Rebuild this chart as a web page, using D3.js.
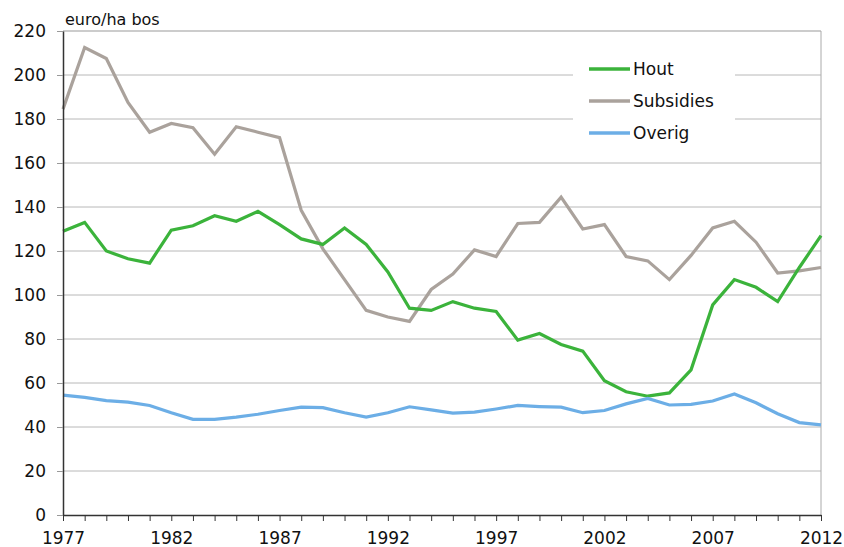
<!DOCTYPE html>
<html><head><meta charset="utf-8">
<script src="https://cdn.jsdelivr.net/npm/d3@7"></script>
<style>body{margin:0;background:#fff}svg{display:block}text{font-family:"DejaVu Sans",Verdana,sans-serif;fill:#111}</style>
</head><body><svg id="c" width="844" height="547"></svg>
<script>
const years = d3.range(1977, 2013);
const hout = [129,133,120,116.5,114.5,129.5,131.5,136,133.5,138,132,125.5,123,130.5,123,110.5,94,93,97,94,92.5,79.5,82.5,77.5,74.5,61,56,54,55.5,66,95.5,107,103.5,97,112.5,127];
const subsidies = [184.5,212.5,207.5,187.5,174,178,176,164,176.5,174,171.5,138.5,121,107,93,90,88,102.5,109.5,120.5,117.5,132.5,133,144.5,130,132,117.5,115.5,107,118,130.5,133.5,124,110,111,112.5];
const overig = [54.5,53.5,52,51.3,49.8,46.5,43.5,43.5,44.5,45.8,47.5,49,48.8,46.5,44.5,46.5,49.2,47.8,46.3,46.8,48.2,49.8,49.3,49,46.5,47.5,50.5,53,50,50.3,51.8,55,51,46,42,41];
const yTicks = [0,20,40,60,80,100,120,140,160,180,200,220];
const xLabels = [1977,1982,1987,1992,1997,2002,2007,2012];
const seriesNames = ["Hout","Subsidies","Overig"];
const colors = ["#3bb33b","#aaa29c","#6caee6"];
const unit = "euro/ha bos";

const svg = d3.select("#c");
const L = 63, R = 821, T = 31, B = 515;
const x = d3.scaleLinear().domain([1977, 2012]).range([L, R]);
const y = d3.scaleLinear().domain([0, 220]).range([B, T]);

// gridlines
const legL = 573, legR = 735;
yTicks.filter(v => v > 0).forEach(v => {
  const yy = y(v);
  if (v === 200 || v === 180) {
    svg.append("line").attr("x1", L).attr("x2", legL).attr("y1", yy).attr("y2", yy).attr("stroke", "#b8b8b8").attr("stroke-width", 1);
    svg.append("line").attr("x1", legR).attr("x2", R).attr("y1", yy).attr("y2", yy).attr("stroke", "#b8b8b8").attr("stroke-width", 1);
  } else {
    svg.append("line").attr("x1", L).attr("x2", R).attr("y1", yy).attr("y2", yy).attr("stroke", v === 220 ? "#999" : "#b8b8b8").attr("stroke-width", 1);
  }
});
// right border
svg.append("line").attr("x1", R).attr("x2", R).attr("y1", T).attr("y2", B).attr("stroke", "#aaa").attr("stroke-width", 1);

// lines
const data = [hout, subsidies, overig];
const line = d3.line().x((d, i) => x(years[i])).y(d => y(d));
[1, 0, 2].forEach(k => {
  svg.append("path").attr("d", line(data[k])).attr("fill", "none").attr("stroke", colors[k]).attr("stroke-width", 3.2).attr("stroke-linejoin", "miter");
});

// y axis
const yAxis = d3.axisLeft(y).tickValues(yTicks).tickSize(6).tickSizeOuter(0).tickPadding(11);
const gy = svg.append("g").attr("transform", `translate(${L},0)`).call(yAxis);
gy.select(".domain").attr("stroke", "#333").attr("stroke-width", 1.5);
gy.selectAll(".tick line").attr("stroke", "#999");
gy.selectAll("text").style("font-size", "17px").attr("fill", "#111");

// x axis
const xAxis = d3.axisBottom(x).tickValues(years).tickSize(6).tickSizeOuter(0).tickPadding(11).tickFormat(d => xLabels.includes(d) ? d : "");
const gx = svg.append("g").attr("transform", `translate(0,${B})`).call(xAxis);
gx.select(".domain").attr("stroke", "#333").attr("stroke-width", 1.5);
gx.selectAll(".tick line").attr("stroke", "#333");
gx.selectAll("text").style("font-size", "17px").attr("fill", "#111");

// unit label
svg.append("text").attr("x", 65).attr("y", 25).style("font-size", "16px").text(unit);

// legend
seriesNames.forEach((n, i) => {
  const yy = 69 + i * 32;
  svg.append("line").attr("x1", 589).attr("x2", 630).attr("y1", yy).attr("y2", yy).attr("stroke", colors[i]).attr("stroke-width", 3.3);
  svg.append("text").attr("x", 633).attr("y", yy).attr("dy", "0.35em").style("font-size", "17px").text(n);
});
</script></body></html>
